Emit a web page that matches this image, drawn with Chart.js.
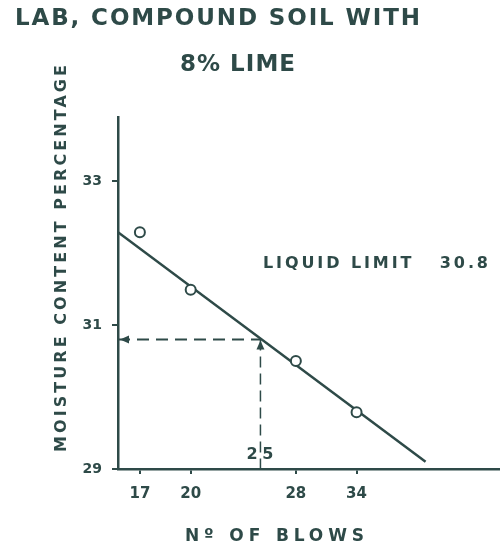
<!DOCTYPE html>
<html>
<head>
<meta charset="utf-8">
<script src="https://cdn.jsdelivr.net/npm/chart.js@4/dist/chart.umd.min.js"></script>
<style>
  html, body { margin: 0; padding: 0; background: #fff; }
  #wrap { width: 500px; height: 553px; }
</style>
</head>
<body>
<div id="wrap"><canvas id="chart" width="500" height="553"></canvas></div>
<script>
// values
const blows = [17, 20, 28, 34];
const moisture = [32.29, 31.49, 30.50, 29.79];
const fitBlows = [15.85, 42.4];
const fitMoisture = [32.29, 29.10];
const liquidLimit = 30.8;
const limitBlows = 25;
const xTicks = [17, 20, 28, 34];
const yTicks = [29, 31, 33];

const ink = '#2e4a48';
const fontFamily = '"DejaVu Sans", "Liberation Sans", sans-serif';

// draws text stretched with letter spacing so it spans left..right
function drawSpaced(ctx, text, left, right, cy, font) {
    ctx.font = font;
    ctx.letterSpacing = '0px';
    const w = ctx.measureText(text).width;
    const sp = (right - left - w) / (text.length - 1);
    ctx.letterSpacing = sp + 'px';
    ctx.textAlign = 'left';
    ctx.textBaseline = 'middle';
    ctx.fillText(text, left, cy);
    ctx.letterSpacing = '0px';
}

const lettering = {
    id: 'lettering',
    afterDatasetsDraw(chart) {
        const ctx = chart.ctx;
        const x = chart.scales.x, y = chart.scales.y;
        const ax = x.getPixelForValue(limitBlows);
        const ay = y.getPixelForValue(liquidLimit);
        ctx.save();
        ctx.fillStyle = ink;
        // arrow at the y axis
        const lx = chart.chartArea.left + 2;
        ctx.beginPath();
        ctx.moveTo(lx, ay);
        ctx.lineTo(lx + 9, ay - 4);
        ctx.lineTo(lx + 9, ay + 4);
        ctx.closePath();
        ctx.fill();
        // arrow pointing up to the curve
        ctx.beginPath();
        ctx.moveTo(ax, ay + 1);
        ctx.lineTo(ax - 4, ay + 10);
        ctx.lineTo(ax + 4, ay + 10);
        ctx.closePath();
        ctx.fill();
        ctx.restore();
    },
    afterDraw(chart) {
        const ctx = chart.ctx;
        const x = chart.scales.x;
        ctx.save();
        ctx.fillStyle = ink;
        drawSpaced(ctx, 'LAB, COMPOUND SOIL WITH', 15, 420, 19, 'bold 23px ' + fontFamily);
        drawSpaced(ctx, '8% LIME', 180, 295, 65, 'bold 23px ' + fontFamily);
        drawSpaced(ctx, 'LIQUID LIMIT   30.8', 263, 488, 264, 'bold 16px ' + fontFamily);
        drawSpaced(ctx, 'Nº OF BLOWS', 185, 364, 537, 'bold 17px ' + fontFamily);
        const cx = x.getPixelForValue(limitBlows);
        drawSpaced(ctx, '25', cx - 14, cx + 13, 455, 'bold 16px ' + fontFamily);
        // vertical axis title
        ctx.translate(62, 452);
        ctx.rotate(-Math.PI / 2);
        drawSpaced(ctx, 'MOISTURE CONTENT PERCENTAGE', 0, 387, 0, 'bold 16px ' + fontFamily);
        ctx.restore();
    }
};

const ctx = document.getElementById('chart').getContext('2d');
new Chart(ctx, {
    type: 'scatter',
    data: {
        datasets: [
            {
                label: 'tests',
                data: blows.map((b, i) => ({ x: b, y: moisture[i] })),
                pointRadius: 5,
                pointBorderWidth: 2,
                pointBackgroundColor: '#fff',
                pointBorderColor: ink,
                order: 0
            },
            {
                label: 'flow curve',
                data: fitBlows.map((b, i) => ({ x: b, y: fitMoisture[i] })),
                showLine: true,
                borderColor: ink,
                borderWidth: 2.5,
                pointRadius: 0,
                order: 1
            },
            {
                label: 'limit across',
                data: [{ x: fitBlows[0], y: liquidLimit }, { x: limitBlows, y: liquidLimit }],
                showLine: true,
                borderColor: ink,
                borderWidth: 2,
                borderDash: [12, 7],
                pointRadius: 0,
                order: 2
            },
            {
                label: 'limit down',
                data: [{ x: limitBlows, y: liquidLimit }, { x: limitBlows, y: yTicks[0] }],
                showLine: true,
                borderColor: ink,
                borderWidth: 1.5,
                borderDash: [11, 6],
                pointRadius: 0,
                order: 2
            }
        ]
    },
    options: {
        responsive: false,
        animation: false,
        layout: { autoPadding: false, padding: { top: 117, right: 0, left: 0, bottom: 0 } },
        plugins: {
            legend: { display: false },
            tooltip: { enabled: false }
        },
        scales: {
            x: {
                type: 'logarithmic',
                min: 15.85,
                max: 53.8,
                afterBuildTicks: s => { s.ticks = xTicks.map(v => ({ value: v })); },
                afterFit: s => { s.height = 84; s.paddingLeft = 0; s.paddingRight = 0; },
                grid: { display: true, drawOnChartArea: false, drawTicks: true, tickLength: 5, color: ink, lineWidth: 2 },
                border: { display: true, color: ink, width: 2.5 },
                ticks: {
                    autoSkip: false,
                    maxRotation: 0,
                    padding: 11,
                    color: ink,
                    font: { family: fontFamily, size: 15, weight: 'bold' },
                    callback: v => String(v)
                }
            },
            y: {
                min: 29,
                max: 33.89,
                afterBuildTicks: s => { s.ticks = yTicks.map(v => ({ value: v })); },
                afterFit: s => { s.width = 118; },
                grid: { display: true, drawOnChartArea: false, drawTicks: true, tickLength: 6, color: ink, lineWidth: 2 },
                border: { display: true, color: ink, width: 2.5 },
                ticks: {
                    padding: 10,
                    color: ink,
                    font: { family: fontFamily, size: 14, weight: 'bold' },
                    callback: v => String(v)
                }
            }
        }
    },
    plugins: [lettering]
});
</script>
</body>
</html>
